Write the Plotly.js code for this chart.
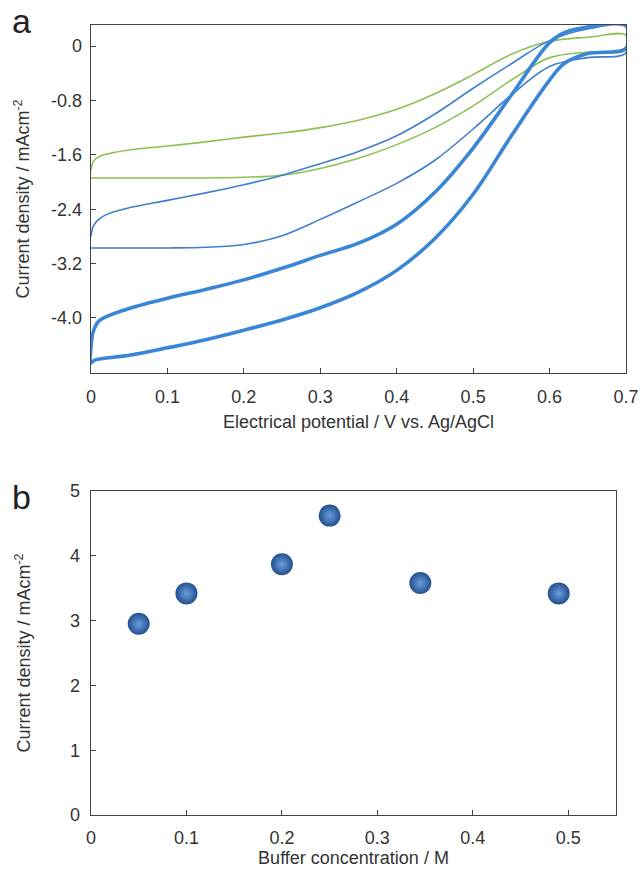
<!DOCTYPE html>
<html>
<head>
<meta charset="utf-8">
<script src="https://cdn.plot.ly/plotly-3.0.1.min.js"></script>
<style>html,body{margin:0;padding:0;background:#fff;}#chart{width:640px;height:871px;}</style>
</head>
<body>
<div id="chart"></div>
<script>
// ---- Panel a: cyclic voltammograms ----
var greenLowerX = [0, 0.05, 0.1, 0.15, 0.2, 0.25, 0.3, 0.35, 0.4, 0.45, 0.5, 0.55, 0.6, 0.65, 0.7];
var greenLowerY = [-1.94, -1.94, -1.94, -1.94, -1.93, -1.9, -1.8, -1.65, -1.45, -1.2, -0.88, -0.5, -0.17, -0.09, -0.06];
var greenUpperX = [0.7, 0.65, 0.6, 0.55, 0.5, 0.45, 0.4, 0.35, 0.3, 0.25, 0.2, 0.15, 0.1, 0.05, 0.02, 0.01, 0.003, 0];
var greenUpperY = [0.16, 0.13, 0.07, -0.12, -0.42, -0.7, -0.93, -1.09, -1.2, -1.28, -1.34, -1.41, -1.47, -1.53, -1.59, -1.63, -1.7, -1.82];

var thinLowerX = [0, 0.05, 0.1, 0.15, 0.2, 0.25, 0.3, 0.35, 0.4, 0.45, 0.5, 0.55, 0.6, 0.65, 0.7];
var thinLowerY = [-2.97, -2.97, -2.97, -2.96, -2.92, -2.79, -2.55, -2.29, -2.02, -1.68, -1.22, -0.72, -0.3, -0.17, -0.1];
var thinUpperX = [0.7, 0.65, 0.6, 0.55, 0.5, 0.45, 0.4, 0.35, 0.3, 0.25, 0.2, 0.15, 0.1, 0.05, 0.02, 0.01, 0.003, 0];
var thinUpperY = [0.28, 0.25, 0.08, -0.26, -0.62, -1.0, -1.32, -1.55, -1.73, -1.9, -2.04, -2.16, -2.27, -2.38, -2.48, -2.55, -2.65, -2.8];

var thickLowerX = [0, 0.005, 0.05, 0.1, 0.15, 0.2, 0.25, 0.3, 0.35, 0.4, 0.45, 0.5, 0.55, 0.6, 0.62, 0.65, 0.7];
var thickLowerY = [-4.66, -4.62, -4.55, -4.44, -4.32, -4.18, -4.03, -3.85, -3.62, -3.3, -2.83, -2.18, -1.32, -0.5, -0.25, -0.11, -0.03];
var thickUpperX = [0.7, 0.65, 0.62, 0.6, 0.55, 0.5, 0.45, 0.4, 0.35, 0.3, 0.25, 0.2, 0.15, 0.1, 0.05, 0.02, 0.01, 0.003, 0, 0];
var thickUpperY = [0.31, 0.28, 0.2, 0.05, -0.72, -1.5, -2.15, -2.62, -2.9, -3.08, -3.27, -3.44, -3.58, -3.71, -3.86, -3.98, -4.05, -4.2, -4.42, -4.66];

var aTickVals = [0, -0.8, -1.6, -2.4, -3.2, -4.0];
var aTickText = ['0', '-0.8', '-1.6', '-2.4', '-3.2', '-4.0'];
var aXTickVals = [0, 0.1, 0.2, 0.3, 0.4, 0.5, 0.6, 0.7];
var aXTickText = ['0', '0.1', '0.2', '0.3', '0.4', '0.5', '0.6', '0.7'];

// ---- Panel b: current density vs buffer concentration ----
var bufferConc = [0.05, 0.1, 0.2, 0.25, 0.345, 0.49];
var currentDensity = [2.95, 3.42, 3.87, 4.62, 3.58, 3.42];

function loop(lx, ly, ux, uy) {
  return {x: lx.concat(ux), y: ly.concat(uy)};
}
var g = loop(greenLowerX, greenLowerY, greenUpperX, greenUpperY);
var t = loop(thinLowerX, thinLowerY, thinUpperX, thinUpperY);
var k = loop(thickLowerX, thickLowerY, thickUpperX, thickUpperY);

var FONT = '"Liberation Sans", Arial, sans-serif';
var traces = [
  {x: g.x, y: g.y, mode: 'lines', line: {color: '#8cc152', width: 1.6, shape: 'spline', smoothing: 1}, xaxis: 'x', yaxis: 'y', hoverinfo: 'skip'},
  {x: t.x, y: t.y, mode: 'lines', line: {color: '#3f7fcc', width: 1.6, shape: 'spline', smoothing: 1}, xaxis: 'x', yaxis: 'y', hoverinfo: 'skip'},
  {x: k.x, y: k.y, mode: 'lines', line: {color: '#3a86d6', width: 3.6, shape: 'spline', smoothing: 1}, xaxis: 'x', yaxis: 'y', hoverinfo: 'skip'},
  {x: bufferConc, y: currentDensity, mode: 'markers', xaxis: 'x2', yaxis: 'y2',
   marker: {size: 22, color: '#234f8e', gradient: {type: 'radial', color: '#6a9fe0'}, line: {width: 0}}, hoverinfo: 'skip'}
];

var axBase = {
  showline: true, mirror: true, linecolor: '#444', linewidth: 1.3,
  ticks: 'inside', ticklen: 5, tickcolor: '#444', tickwidth: 1,
  showgrid: false, zeroline: false,
  tickfont: {family: FONT, size: 18, color: '#333'}
};
function ax(o) { return Object.assign({}, axBase, o); }
var TF = {family: FONT, size: 18, color: '#333'};

var layout = {
  width: 640, height: 871,
  margin: {l: 0, r: 0, t: 0, b: 0},
  paper_bgcolor: '#fff', plot_bgcolor: '#fff',
  showlegend: false,
  font: {family: FONT, color: '#333'},
  xaxis: ax({domain: [91/640, 626/640], range: [0, 0.7], anchor: 'y',
    tickvals: aXTickVals, ticktext: aXTickText, ticklabelstandoff: 7,
    title: {text: 'Electrical potential / V vs. Ag/AgCl', font: TF, standoff: 9}}),
  yaxis: ax({domain: [1 - 373/871, 1 - 25/871], range: [-4.81, 0.31], anchor: 'x',
    tickvals: aTickVals, ticktext: aTickText, ticklabelstandoff: 4,
    title: {text: 'Current density / mAcm<sup>-2</sup>', font: TF, standoff: 16}}),
  xaxis2: ax({domain: [91/640, 616/640], range: [0, 0.55], anchor: 'y2', dtick: 0.1, tick0: 0, ticklabelstandoff: 6,
    title: {text: 'Buffer concentration / M', font: TF, standoff: 4}}),
  yaxis2: ax({domain: [1 - 815/871, 1 - 491/871], range: [0, 5], anchor: 'x2', dtick: 1, tick0: 0, ticklabelstandoff: 6,
    title: {text: 'Current density / mAcm<sup>-2</sup>', font: TF, standoff: 34}}),
  annotations: [
    {text: 'a', x: 10/640, y: 1 - 21/871, xref: 'paper', yref: 'paper', xanchor: 'left', yanchor: 'middle', showarrow: false, font: {family: FONT, size: 34, color: '#222'}},
    {text: 'b', x: 10/640, y: 1 - 497/871, xref: 'paper', yref: 'paper', xanchor: 'left', yanchor: 'middle', showarrow: false, font: {family: FONT, size: 34, color: '#222'}}
  ]
};

Plotly.newPlot('chart', traces, layout, {staticPlot: true, displayModeBar: false});
</script>
</body>
</html>
